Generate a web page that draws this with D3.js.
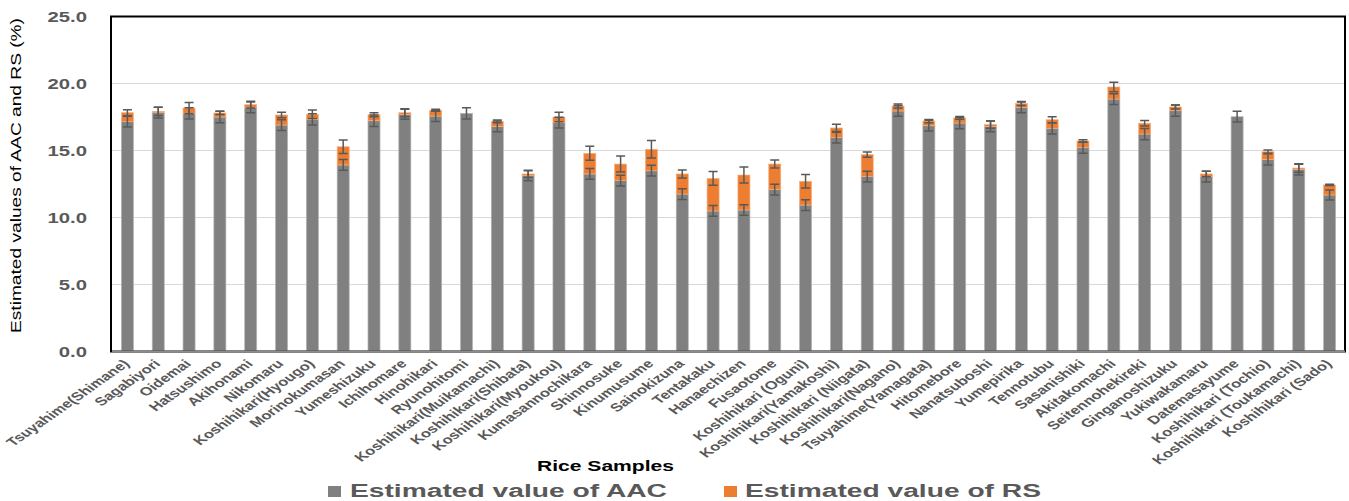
<!DOCTYPE html>
<html>
<head>
<meta charset="utf-8">
<script src="https://cdn.jsdelivr.net/npm/d3@7"></script>
<style>
  body { margin: 0; background: #fff; }
  text { font-family: "Liberation Sans", Arial, sans-serif; }
</style>
</head>
<body>
<div id="chart"></div>
<script>
// rice sample names (x categories)
const samples = [
  "Tsuyahime(Shimane)", "Sagabiyori", "Oidemai", "Hatsushimo", "Akihonami", "Nikomaru",
  "Koshihikari(Hyougo)", "Morinokumasan", "Yumeshizuku", "Ichihomare", "Hinohikari",
  "Ryunohitomi", "Koshihikari(Muikamachi)", "Koshihikari(Shibata)", "Koshihikari(Myoukou)",
  "Kumasannochikara", "Shinnosuke", "Kinumusume", "Sainokizuna", "Tentakaku", "Hanaechizen",
  "Fusaotome", "Koshihikari (Oguni)", "Koshihikari(Yamakoshi)", "Koshihikari (Niigata)",
  "Koshihikari(Nagano)", "Tsuyahime(Yamagata)", "Hitomebore", "Nanatsuboshi", "Yumepirika",
  "Tennotubu", "Sasanishiki", "Akitakomachi", "Seitennohekireki", "Ginganoshizuku",
  "Yukiwakamaru", "Datemasayume", "Koshihikari (Tochio)", "Koshihikari (Toukamachi)",
  "Koshihikari (Sado)"
];

// estimated AAC (%)
const aac = [
  17.15, 17.82, 17.77, 17.50, 18.22, 16.90, 17.33, 13.92, 17.22, 17.70,
  17.57, 17.77, 16.80, 13.12, 17.08, 13.25, 12.75, 13.49, 11.75, 10.49,
  10.56, 12.08, 10.93, 15.96, 13.05, 17.95, 16.85, 17.05, 16.80, 18.22,
  16.66, 15.21, 18.84, 16.23, 17.97, 13.05, 17.52, 14.34, 13.57, 11.68
];
// estimated RS (%) stacked on top
const rs = [
  0.67, 0.10, 0.40, 0.30, 0.20, 0.75, 0.37, 1.36, 0.45, 0.12,
  0.43, 0.00, 0.38, 0.13, 0.42, 1.54, 1.24, 1.60, 1.50, 2.43,
  2.61, 1.91, 1.77, 0.72, 1.64, 0.37, 0.35, 0.38, 0.13, 0.28,
  0.64, 0.50, 0.90, 0.80, 0.28, 0.20, 0.00, 0.57, 0.12, 0.75
];
// error bars
const aacErr = [
  0.40, 0.40, 0.42, 0.42, 0.40, 0.40, 0.42, 0.40, 0.42, 0.37,
  0.40, 0.42, 0.40, 0.37, 0.40, 0.40, 0.40, 0.40, 0.40, 0.40,
  0.40, 0.40, 0.40, 0.40, 0.40, 0.40, 0.40, 0.42, 0.40, 0.40,
  0.42, 0.42, 0.40, 0.42, 0.42, 0.40, 0.40, 0.42, 0.40, 0.37
];
const rsErr = [
  0.22, 0.30, 0.42, 0.12, 0.25, 0.20, 0.32, 0.50, 0.15, 0.30,
  0.07, 0.00, 0.10, 0.27, 0.35, 0.52, 0.60, 0.65, 0.30, 0.52,
  0.60, 0.30, 0.50, 0.27, 0.20, 0.15, 0.12, 0.10, 0.27, 0.15,
  0.22, 0.10, 0.35, 0.20, 0.15, 0.20, 0.00, 0.12, 0.32, 0.05
];
const yTicks = [0, 5, 10, 15, 20, 25];
const seriesNames = ["Estimated value of AAC", "Estimated value of RS"];

const width = 1349, height = 501;
const plotL = 112, plotR = 1345, plotT = 16.5, plotB = 351.5;
const sx = 1.42; // horizontal stretch of the text in the picture

const svg = d3.select("#chart").append("svg")
  .attr("width", width).attr("height", height);

const x = d3.scaleBand().domain(samples).range([plotL, plotR])
  .paddingInner(0.61).paddingOuter(0.305);
const y = d3.scaleLinear().domain([0, 25]).range([plotB, plotT]);

// gridlines
svg.append("g").selectAll("line")
  .data(yTicks.filter(d => d > 0 && d < 25))
  .join("line")
  .attr("x1", plotL).attr("x2", plotR)
  .attr("y1", d => y(d)).attr("y2", d => y(d))
  .attr("stroke", "#d9d9d9").attr("stroke-width", 1);

// y tick labels
svg.append("g").selectAll("text")
  .data(yTicks)
  .join("text")
  .attr("transform", d => `translate(87,${y(d)}) scale(1.45,1)`)
  .attr("text-anchor", "end")
  .attr("dy", "0.36em")
  .attr("font-size", 14).attr("font-weight", "bold")
  .attr("fill", "#595959")
  .text(d3.format(".1f"));

const rows = samples.map((s, i) => ({ s, aac: aac[i], rs: rs[i], ea: aacErr[i], er: rsErr[i] }));

// AAC bars
svg.append("g").selectAll("rect")
  .data(rows)
  .join("rect")
  .attr("x", d => x(d.s)).attr("width", x.bandwidth())
  .attr("y", d => y(d.aac)).attr("height", d => y(0) - y(d.aac))
  .attr("fill", "#808080").attr("stroke", "#b4b4b4").attr("stroke-width", 0.7);

// RS bars
svg.append("g").selectAll("rect")
  .data(rows.filter(d => d.rs > 0))
  .join("rect")
  .attr("x", d => x(d.s)).attr("width", x.bandwidth())
  .attr("y", d => y(d.aac + d.rs)).attr("height", d => y(d.aac) - y(d.aac + d.rs))
  .attr("fill", "#ed7d31").attr("stroke", "#f4b183").attr("stroke-width", 0.7);

// error bars
const errs = [];
rows.forEach(d => {
  errs.push({ s: d.s, v: d.aac, e: d.ea });
  if (d.er > 0) errs.push({ s: d.s, v: d.aac + d.rs, e: d.er });
});
const eg = svg.append("g").attr("stroke", "#595959").attr("stroke-width", 1.5).attr("fill", "none");
errs.forEach(d => {
  const cx = x(d.s) + x.bandwidth() / 2;
  const y1 = y(d.v + d.e), y2 = y(d.v - d.e);
  eg.append("path")
    .attr("d", `M${cx},${y1}V${y2}M${cx - 4.5},${y1}H${cx + 4.5}M${cx - 4.5},${y2}H${cx + 4.5}`);
});

// plot frame
svg.append("rect")
  .attr("x", plotL - 1).attr("y", plotT).attr("width", plotR - plotL + 1).attr("height", plotB - plotT)
  .attr("fill", "none").attr("stroke", "#000").attr("stroke-width", 2);
svg.append("line")
  .attr("x1", plotL).attr("x2", plotR).attr("y1", plotB).attr("y2", plotB)
  .attr("stroke", "#8c8c8c").attr("stroke-width", 2);

// x labels
svg.append("g").selectAll("text")
  .data(samples)
  .join("text")
  .attr("transform", d => `translate(${x(d) + x.bandwidth() / 2 + 3},${plotB + 13}) scale(${sx},1) rotate(-45)`)
  .attr("text-anchor", "end")
  .attr("font-size", 11.7).attr("font-weight", "bold")
  .attr("fill", "#595959")
  .text(d => d);

// axis titles
svg.append("text")
  .attr("transform", "translate(21,175.5) rotate(-90)")
  .attr("text-anchor", "middle")
  .attr("font-size", 15)
  .attr("textLength", 315).attr("lengthAdjust", "spacingAndGlyphs")
  .attr("fill", "#000")
  .text("Estimated values of AAC and RS (%)");

svg.append("text")
  .attr("x", 537).attr("y", 471)
  .attr("font-size", 15.5).attr("font-weight", "bold")
  .attr("textLength", 137).attr("lengthAdjust", "spacingAndGlyphs")
  .attr("fill", "#000")
  .text("Rice Samples");

// legend
const legend = [
  { name: seriesNames[0], color: "#808080", sq: 328, tx: 350, w: 317 },
  { name: seriesNames[1], color: "#ed7d31", sq: 724, tx: 745, w: 296 }
];
legend.forEach(l => {
  svg.append("rect")
    .attr("x", l.sq).attr("y", 486).attr("width", 13).attr("height", 11)
    .attr("fill", l.color);
  svg.append("text")
    .attr("x", l.tx).attr("y", 497)
    .attr("font-size", 18).attr("font-weight", "bold")
    .attr("textLength", l.w).attr("lengthAdjust", "spacingAndGlyphs")
    .attr("fill", "#595959")
    .text(l.name);
});
</script>
</body>
</html>
